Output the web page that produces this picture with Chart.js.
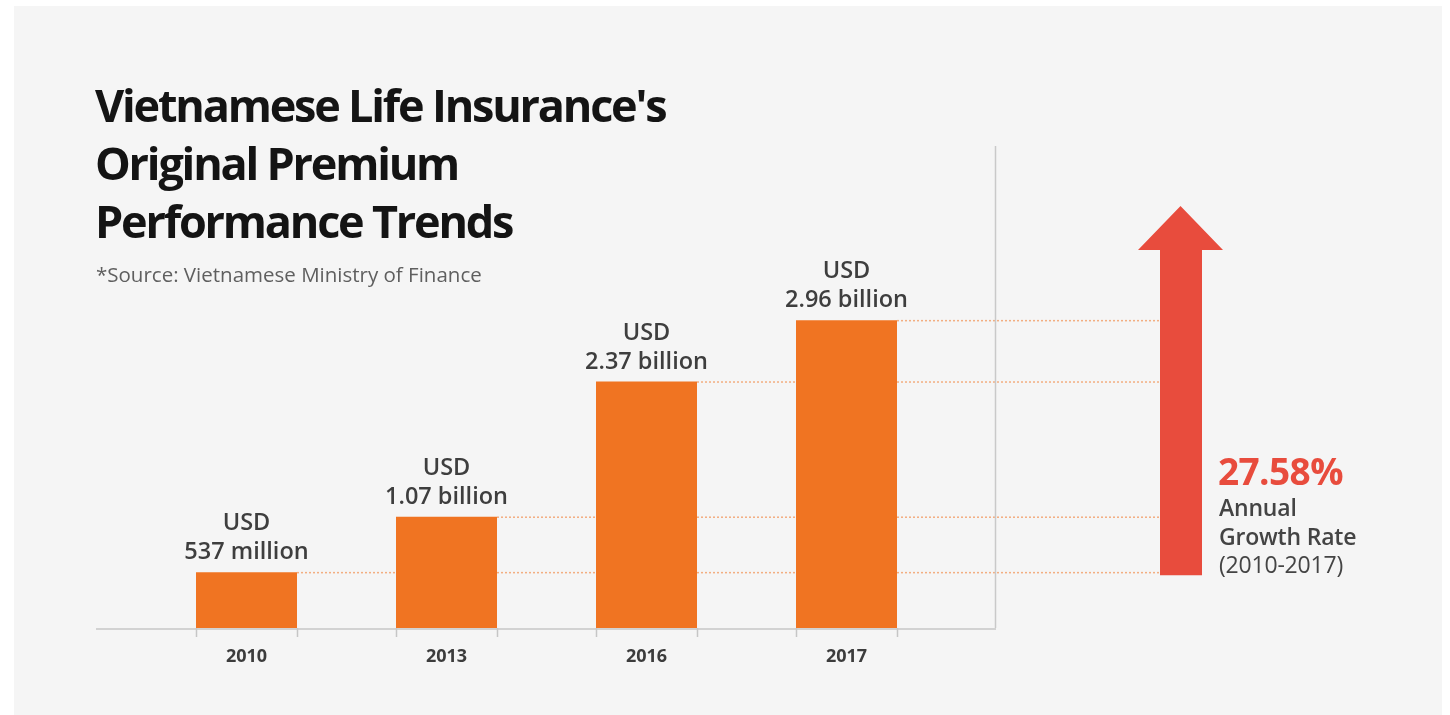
<!DOCTYPE html>
<html>
<head>
<meta charset="utf-8">
<script src="https://cdn.jsdelivr.net/npm/chart.js@4.4.0/dist/chart.umd.min.js"></script>
<style>
  html, body { margin: 0; padding: 0; background: #ffffff; }
  body { width: 1450px; height: 715px; position: relative; overflow: hidden; font-family: "Open Sans", "Noto Sans", sans-serif; }
  #panel { position: absolute; left: 14px; top: 6px; width: 1428px; height: 709px; background: #f5f5f5; }
  #chart { position: absolute; left: 0; top: 0; }
  .txt { position: absolute; white-space: nowrap; }
  #title { left: 95px; top: 76px; font-size: 45px; line-height: 58px; font-weight: 700; color: #141414; letter-spacing: -2.2px; }
  #source { left: 96px; top: 262px; font-size: 20.5px; line-height: 24px; color: #5f5f5f; letter-spacing: 0px; }
  #rate { left: 1218px; top: 451px; font-size: 37px; line-height: 40px; font-weight: 700; color: #e84c3d; letter-spacing: -0.6px; }
  #rateText { left: 1219px; top: 493px; font-size: 23px; line-height: 28.5px; color: #444444; letter-spacing: -0.2px; }
  #rateText b { font-weight: 600; }
</style>
</head>
<body>
<div id="panel"></div>
<canvas id="chart" width="1450" height="715"></canvas>
<div class="txt" id="title">Vietnamese Life Insurance's<br>Original Premium<br>Performance Trends</div>
<div class="txt" id="source">*Source: Vietnamese Ministry of Finance</div>
<div class="txt" id="rate">27.58%</div>
<div class="txt" id="rateText"><b>Annual</b><br><b>Growth Rate</b><br>(2010-2017)</div>
<script>
// データ（単位: 十億USD）
const years = ['2010', '2013', '2016', '2017'];
const premiums = [0.537, 1.07, 2.37, 2.96];
const currencyLabels = ['USD', 'USD', 'USD', 'USD'];
const amountLabels = ['537 million', '1.07 billion', '2.37 billion', '2.96 billion'];

const BAR_COLOR = '#f07422';
const ARROW_COLOR = '#e84c3d';

// 軸線・点線・矢印・ラベルを描くプラグイン
const decorPlugin = {
    id: 'decor',
    beforeDatasetsDraw(chart) {
        const ctx = chart.ctx;
        const y0 = chart.scales.y.getPixelForValue(0);
        const bars = chart.getDatasetMeta(0).data;
        ctx.save();

        // 点線（バー上端から矢印まで）
        ctx.strokeStyle = 'rgba(241, 150, 90, 0.75)';
        ctx.lineWidth = 1.5;
        ctx.setLineDash([2, 2]);
        bars.forEach(bar => {
            ctx.beginPath();
            ctx.moveTo(bar.x + bar.width / 2, bar.y + 0.5);
            ctx.lineTo(1160, bar.y + 0.5);
            ctx.stroke();
        });
        ctx.setLineDash([]);

        // 区切りの縦線
        ctx.strokeStyle = '#c9c9c9';
        ctx.lineWidth = 1.5;
        ctx.beginPath();
        ctx.moveTo(995.5, 146);
        ctx.lineTo(995.5, y0);
        ctx.stroke();

        // 横軸
        ctx.strokeStyle = '#d2d2d2';
        ctx.lineWidth = 2;
        ctx.beginPath();
        ctx.moveTo(96, y0 + 1);
        ctx.lineTo(996, y0 + 1);
        ctx.stroke();

        // バーの両端の目盛り
        ctx.strokeStyle = '#c6c6c6';
        ctx.lineWidth = 1.5;
        bars.forEach(bar => {
            [bar.x - bar.width / 2, bar.x + bar.width / 2].forEach(x => {
                ctx.beginPath();
                ctx.moveTo(Math.round(x) + 0.5, y0);
                ctx.lineTo(Math.round(x) + 0.5, y0 + 9);
                ctx.stroke();
            });
        });
        ctx.restore();
    },
    afterDatasetsDraw(chart) {
        const ctx = chart.ctx;
        const bars = chart.getDatasetMeta(0).data;
        ctx.save();

        // 値ラベル
        ctx.fillStyle = '#3e3e3e';
        ctx.font = '600 23.5px "Open Sans"';
        ctx.textAlign = 'center';
        ctx.textBaseline = 'alphabetic';
        bars.forEach((bar, i) => {
            ctx.fillText(currencyLabels[i], bar.x, bar.y - 42);
            ctx.fillText(amountLabels[i], bar.x, bar.y - 13);
        });

        // 成長率の矢印
        const bottom = bars[0].y + 3;
        ctx.fillStyle = ARROW_COLOR;
        ctx.beginPath();
        ctx.moveTo(1160, bottom);
        ctx.lineTo(1160, 250);
        ctx.lineTo(1138, 250);
        ctx.lineTo(1180.5, 206);
        ctx.lineTo(1223, 250);
        ctx.lineTo(1202, 250);
        ctx.lineTo(1202, bottom);
        ctx.closePath();
        ctx.fill();
        ctx.restore();
    }
};

new Chart(document.getElementById('chart'), {
    type: 'bar',
    data: {
        labels: years,
        datasets: [{
            label: 'Original premium (USD billion)',
            data: premiums,
            backgroundColor: BAR_COLOR,
            borderWidth: 0,
            barPercentage: 0.505,
            categoryPercentage: 1.0
        }]
    },
    options: {
        responsive: false,
        animation: false,
        layout: { padding: { left: 146.5, right: 503.5, top: 316, bottom: 0 } },
        plugins: {
            legend: { display: false },
            tooltip: { enabled: false },
            title: { display: false }
        },
        scales: {
            x: {
                grid: { display: false, drawTicks: false },
                border: { display: false },
                ticks: {
                    color: '#3c3c3c',
                    font: { family: '"Open Sans"', size: 18, weight: '700' },
                    padding: 18
                },
                afterFit: s => { s.height = 87; }
            },
            y: {
                display: false,
                min: 0,
                max: 3
            }
        }
    },
    plugins: [decorPlugin]
});
</script>
</body>
</html>
